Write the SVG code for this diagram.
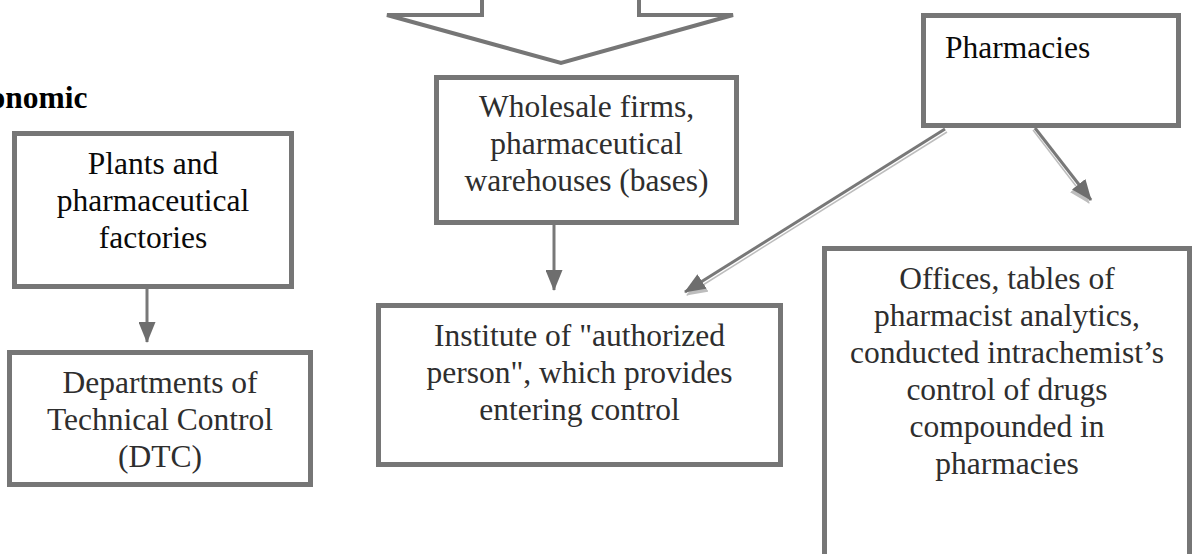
<svg xmlns="http://www.w3.org/2000/svg" width="1194" height="554" viewBox="0 0 1194 554">
  <style>
    .box { fill: #ffffff; stroke: #767676; stroke-width: 5; }
    .big { fill: #ffffff; stroke: #767676; stroke-width: 4; stroke-linejoin: miter; }
    text { font-family: "Liberation Serif", "Times New Roman", serif; }
    .txt { font-size: 31.5px; fill: #2e2e2e; text-anchor: middle; }
    .dark { fill: #0a0a0a; }
    .left { text-anchor: start; }
    .bold { font-weight: bold; fill: #000000; text-anchor: start; }
    .conn { stroke: #787878; stroke-width: 3; fill: none; }
    .shade { stroke: #bdbdbd; stroke-width: 1.5; fill: none; }
  </style>
  <defs>
    <marker id="head" markerUnits="userSpaceOnUse" markerWidth="21" markerHeight="17" viewBox="0 0 21 17" refX="20" refY="8.5" orient="auto">
      <path d="M0,0 L21,8.5 L0,17 Z" fill="#6e6e6e"/>
    </marker>
    <marker id="headShade" markerUnits="userSpaceOnUse" markerWidth="21" markerHeight="17" viewBox="0 0 21 17" refX="20" refY="8.5" orient="auto">
      <path d="M0,0 L21,8.5 L0,17 Z" fill="#bdbdbd"/>
    </marker>
  </defs>

  <!-- heading running in from the left edge -->
  <text class="txt bold" x="-10.5" y="108" font-family="Liberation Serif, serif">onomic</text>

  <!-- large block arrow pointing down to the wholesale level -->
  <g id="inflow-arrow">
    <polygon class="big" points="482,-10 482,15 387,15 561,63 733,15 639,15 639,-10"/>
  </g>

  <g id="plants">
    <rect class="box" x="14.5" y="133.5" width="277" height="153"/>
    <text class="txt dark" x="153" y="174">Plants and</text>
    <text class="txt dark" x="153" y="211">pharmaceutical</text>
    <text class="txt dark" x="153" y="248">factories</text>
  </g>

  <g id="dtc">
    <rect class="box" x="9.5" y="352.5" width="301" height="132"/>
    <text class="txt" x="160" y="393">Departments of</text>
    <text class="txt" x="160" y="430">Technical Control</text>
    <text class="txt" x="160" y="467">(DTC)</text>
  </g>

  <g id="wholesale">
    <rect class="box" x="436.5" y="77.5" width="300" height="145"/>
    <text class="txt" x="586.5" y="117">Wholesale firms,</text>
    <text class="txt" x="586.5" y="154">pharmaceutical</text>
    <text class="txt" x="586.5" y="191">warehouses (bases)</text>
  </g>

  <g id="institute">
    <rect class="box" x="378.5" y="305.5" width="402" height="159"/>
    <text class="txt" x="579.5" y="346">Institute of "authorized</text>
    <text class="txt" x="579.5" y="383">person", which provides</text>
    <text class="txt" x="579.5" y="420">entering control</text>
  </g>

  <g id="pharmacies">
    <rect class="box" x="923.5" y="15.5" width="255" height="110"/>
    <text class="txt dark left" x="945" y="58" font-family="Liberation Serif, serif">Pharmacies</text>
  </g>

  <g id="offices">
    <rect class="box" x="824.5" y="248.5" width="365" height="330"/>
    <text class="txt" x="1007" y="289">Offices, tables of</text>
    <text class="txt" x="1007" y="326">pharmacist analytics,</text>
    <text class="txt" x="1007" y="363">conducted intrachemist’s</text>
    <text class="txt" x="1007" y="400">control of drugs</text>
    <text class="txt" x="1007" y="437">compounded in</text>
    <text class="txt" x="1007" y="474">pharmacies</text>
  </g>

  <g id="connectors">
    <line class="conn" x1="147" y1="289" x2="147" y2="342" marker-end="url(#head)"/>
    <line class="conn" x1="554" y1="225" x2="554" y2="290" marker-end="url(#head)"/>
    <!-- diagonal connectors carry a light offset shadow line -->
    <line class="shade" x1="947" y1="132" x2="687" y2="295" marker-end="url(#headShade)"/>
    <line class="conn" x1="945" y1="129" x2="685" y2="292" marker-end="url(#head)"/>
    <line class="shade" x1="1033" y1="130" x2="1089" y2="203" marker-end="url(#headShade)"/>
    <line class="conn" x1="1035" y1="128" x2="1091" y2="200" marker-end="url(#head)"/>
  </g>
</svg>
